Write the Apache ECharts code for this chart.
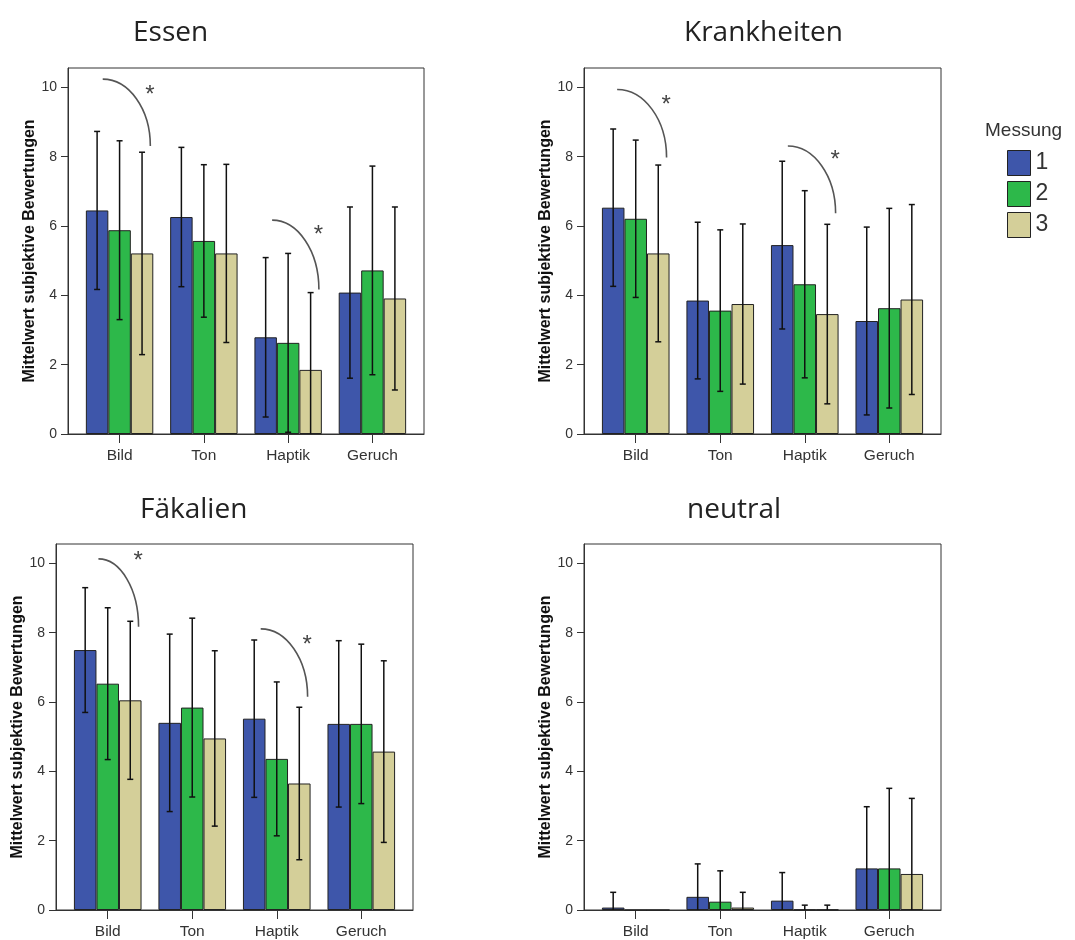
<!DOCTYPE html>
<html>
<head>
<meta charset="utf-8">
<title>Mittelwert subjektive Bewertungen</title>
<script src="https://cdn.jsdelivr.net/npm/echarts@6/dist/echarts.min.js"></script>
<style>
  html, body { margin: 0; padding: 0; background: #fff; }
  #chart { width: 1075px; height: 940px; }
</style>
</head>
<body>
<div id="chart"></div>
<script>
// Categories, groups and measurement labels
const categories = ['Bild', 'Ton', 'Haptik', 'Geruch'];
const measurements = ['1', '2', '3'];
const panelTitles = ['Essen', 'Krankheiten', 'Fäkalien', 'neutral'];
const yTickValues = [0, 2, 4, 6, 8, 10];

// Means per measurement (rows: Messung 1, 2, 3; columns follow categories)
const essenMean = [
  [6.45, 6.26, 2.79, 4.08],
  [5.88, 5.57, 2.63, 4.72],
  [5.21, 5.21, 1.85, 3.91]
];
const essenErr = [
  [2.28, 2.01, 2.30, 2.47],
  [2.58, 2.20, 2.58, 3.01],
  [2.92, 2.57, 2.23, 2.64]
];

const krankMean = [
  [6.53, 3.85, 5.45, 3.26],
  [6.21, 3.56, 4.32, 3.63],
  [5.21, 3.75, 3.46, 3.88]
];
const krankErr = [
  [2.27, 2.26, 2.42, 2.71],
  [2.27, 2.33, 2.70, 2.88],
  [2.55, 2.31, 2.59, 2.74]
];

const faekMean = [
  [7.50, 5.40, 5.52, 5.37],
  [6.53, 5.84, 4.36, 5.37],
  [6.05, 4.95, 3.65, 4.57]
];
const faekErr = [
  [1.80, 2.56, 2.27, 2.40],
  [2.19, 2.58, 2.22, 2.30],
  [2.28, 2.53, 2.20, 2.62]
];

const neutralMean = [
  [0.07, 0.38, 0.27, 1.20],
  [0.00, 0.24, 0.01, 1.20],
  [0.00, 0.07, 0.01, 1.04]
];
const neutralErr = [
  [0.44, 0.95, 0.81, 1.78],
  [0.00, 0.89, 0.13, 2.31],
  [0.00, 0.44, 0.13, 2.18]
];

// Significance brackets: [category index, arc start offset, arc top, arc bottom, asterisk y]
const essenSig = [[0, -0.20, 10.24, 8.31, 9.92], [2, -0.19, 6.17, 4.17, 5.88]];
const krankSig = [[0, -0.22, 9.94, 7.98, 9.63], [2, -0.20, 8.31, 6.37, 8.03]];
const faekSig = [[0, -0.11, 10.13, 8.17, 10.19], [2, -0.19, 8.11, 6.15, 7.79]];
const neutralSig = [];

const panels = [
  { title: panelTitles[0], mean: essenMean, err: essenErr, sig: essenSig },
  { title: panelTitles[1], mean: krankMean, err: krankErr, sig: krankSig },
  { title: panelTitles[2], mean: faekMean, err: faekErr, sig: faekSig },
  { title: panelTitles[3], mean: neutralMean, err: neutralErr, sig: neutralSig }
];

// Layout of the four plot frames
const gridBoxes = [
  { left: 68, top: 68, width: 356, height: 366 },
  { left: 584, top: 68, width: 357, height: 366 },
  { left: 56, top: 544, width: 357, height: 366 },
  { left: 584, top: 544, width: 357, height: 366 }
];
// Left edge and top of each panel heading
const titleSpots = [
  { x: 133, y: 19 },
  { x: 684, y: 19 },
  { x: 140, y: 496 },
  { x: 687, y: 496 }
];

const colors = ['#3e56aa', '#2db84a', '#d4cf99'];
const Y_MAX = 10.56;
const X_MIN = -0.612, X_MAX = 3.612;
const GROUP_SHARE = 0.8;                   // bars fill 80% of each category band
const BAR_STEP = GROUP_SHARE / measurements.length;
const FONT = '"Liberation Sans", Arial, sans-serif';

const grids = [], xAxes = [], yAxes = [], series = [], titles = [];

panels.forEach(function (p, pi) {
  const g = gridBoxes[pi];
  grids.push({
    left: g.left, top: g.top, width: g.width, height: g.height,
    show: true, borderColor: '#333', borderWidth: 1, backgroundColor: '#fff',
    containLabel: false, outerBoundsMode: 'none'
  });
  xAxes.push({
    type: 'value', gridIndex: pi, min: X_MIN, max: X_MAX,
    splitLine: { show: false },
    axisLine: { show: true, onZero: false, lineStyle: { color: '#333', width: 1 } },
    axisTick: { show: true, length: 9, inside: false, customValues: [0, 1, 2, 3],
                lineStyle: { color: '#333', width: 1 } },
    axisLabel: {
      show: true, customValues: [0, 1, 2, 3], margin: 14,
      fontFamily: FONT, fontSize: 15.5, color: '#333',
      formatter: function (v) { return categories[Math.round(v)] || ''; }
    }
  });
  yAxes.push({
    type: 'value', gridIndex: pi, min: 0, max: Y_MAX,
    name: 'Mittelwert subjektive Bewertungen',
    nameLocation: 'middle', nameGap: 28, nameRotate: 90,
    nameTextStyle: { fontFamily: FONT, fontSize: 16, fontWeight: 'bold', color: '#111' },
    splitLine: { show: false },
    axisLine: { show: true, onZero: false, lineStyle: { color: '#333', width: 1 } },
    axisTick: { show: true, length: 7, inside: false, customValues: yTickValues,
                lineStyle: { color: '#333', width: 1 } },
    axisLabel: { show: true, customValues: yTickValues, margin: 11,
                 fontFamily: FONT, fontSize: 14, color: '#333' }
  });
  titles.push({
    text: p.title, left: titleSpots[pi].x, top: titleSpots[pi].y, padding: 0,
    textStyle: { fontFamily: '"Open Sans", "Noto Sans", sans-serif', fontSize: 28,
                 fontWeight: 'normal', color: '#222' }
  });

  // Bars
  measurements.forEach(function (m, k) {
    series.push({
      type: 'bar', name: m, xAxisIndex: pi, yAxisIndex: pi,
      barGap: '0%', barCategoryGap: '20%',
      itemStyle: { color: colors[k], borderColor: '#222', borderWidth: 1 },
      emphasis: { disabled: true },
      animation: false,
      data: p.mean[k].map(function (v, i) { return [i, v]; }),
      z: 2
    });
  });

  // Error bars, placed at each bar's center
  measurements.forEach(function (m, k) {
    const offset = (k - (measurements.length - 1) / 2) * BAR_STEP;
    const data = [];
    p.mean[k].forEach(function (v, i) {
      const e = p.err[k][i];
      if (e > 0) data.push([i + offset, v - e, v + e]);
    });
    series.push({
      type: 'custom', name: 'err' + m, xAxisIndex: pi, yAxisIndex: pi,
      animation: false, silent: true, z: 5, clip: false,
      encode: { x: 0, y: [1, 2] },
      data: data,
      renderItem: function (params, api) {
        const x = api.value(0), lo = api.value(1), hi = api.value(2);
        const top = api.coord([x, hi]);
        const bot = api.coord([x, Math.max(lo, 0)]);
        const cap = 3;
        const style = { stroke: '#111', lineWidth: 1.5 };
        const children = [
          { type: 'line', shape: { x1: top[0], y1: top[1], x2: bot[0], y2: bot[1] }, style: style },
          { type: 'line', shape: { x1: top[0] - cap, y1: top[1], x2: top[0] + cap, y2: top[1] }, style: style }
        ];
        if (lo >= 0) {
          children.push({ type: 'line', shape: { x1: bot[0] - cap, y1: bot[1], x2: bot[0] + cap, y2: bot[1] }, style: style });
        }
        return { type: 'group', children: children };
      }
    });
  });

  // Significance arcs with asterisks
  if (p.sig.length) {
    series.push({
      type: 'custom', name: 'sig', xAxisIndex: pi, yAxisIndex: pi,
      animation: false, silent: true, z: 6, clip: false,
      encode: { x: 0, y: [2, 3] },
      data: p.sig,
      renderItem: function (params, api) {
        const c = api.value(0), dx = api.value(1), yTop = api.value(2), yBot = api.value(3), yStar = api.value(4);
        const s = api.coord([c + dx, yTop]);
        const e = api.coord([c + 0.365, yBot]);
        const k = 0.5523;
        const rx = e[0] - s[0], ry = e[1] - s[1];
        const star = api.coord([c + 0.36, yStar]);
        return {
          type: 'group',
          children: [
            {
              type: 'bezierCurve',
              shape: { x1: s[0], y1: s[1], x2: e[0], y2: e[1],
                       cpx1: s[0] + k * rx, cpy1: s[1], cpx2: e[0], cpy2: e[1] - k * ry },
              style: { stroke: '#555', lineWidth: 1.6, fill: null }
            },
            {
              type: 'text', x: star[0], y: star[1] + 5,
              style: { text: '*', fontFamily: FONT, fontSize: 24, fill: '#444',
                       align: 'center', verticalAlign: 'middle' }
            }
          ]
        };
      }
    });
  }
});

// Legend heading
titles.push({
  text: 'Messung', left: 985, top: 121, padding: 0,
  textStyle: { fontFamily: FONT, fontSize: 19, fontWeight: 'normal', color: '#333' }
});

const option = {
  backgroundColor: '#fff',
  animation: false,
  title: titles,
  grid: grids,
  xAxis: xAxes,
  yAxis: yAxes,
  legend: {
    orient: 'vertical', left: 1007, top: 150, padding: 0,
    data: measurements,
    itemWidth: 23, itemHeight: 25, itemGap: 5,
    icon: 'rect',
    selectedMode: false,
    itemStyle: { borderColor: '#222', borderWidth: 1 },
    textStyle: { fontFamily: FONT, fontSize: 23, color: '#333' }
  },
  series: series
};

const chart = echarts.init(document.getElementById('chart'), null, { renderer: 'canvas' });
chart.setOption(option);
</script>
</body>
</html>
